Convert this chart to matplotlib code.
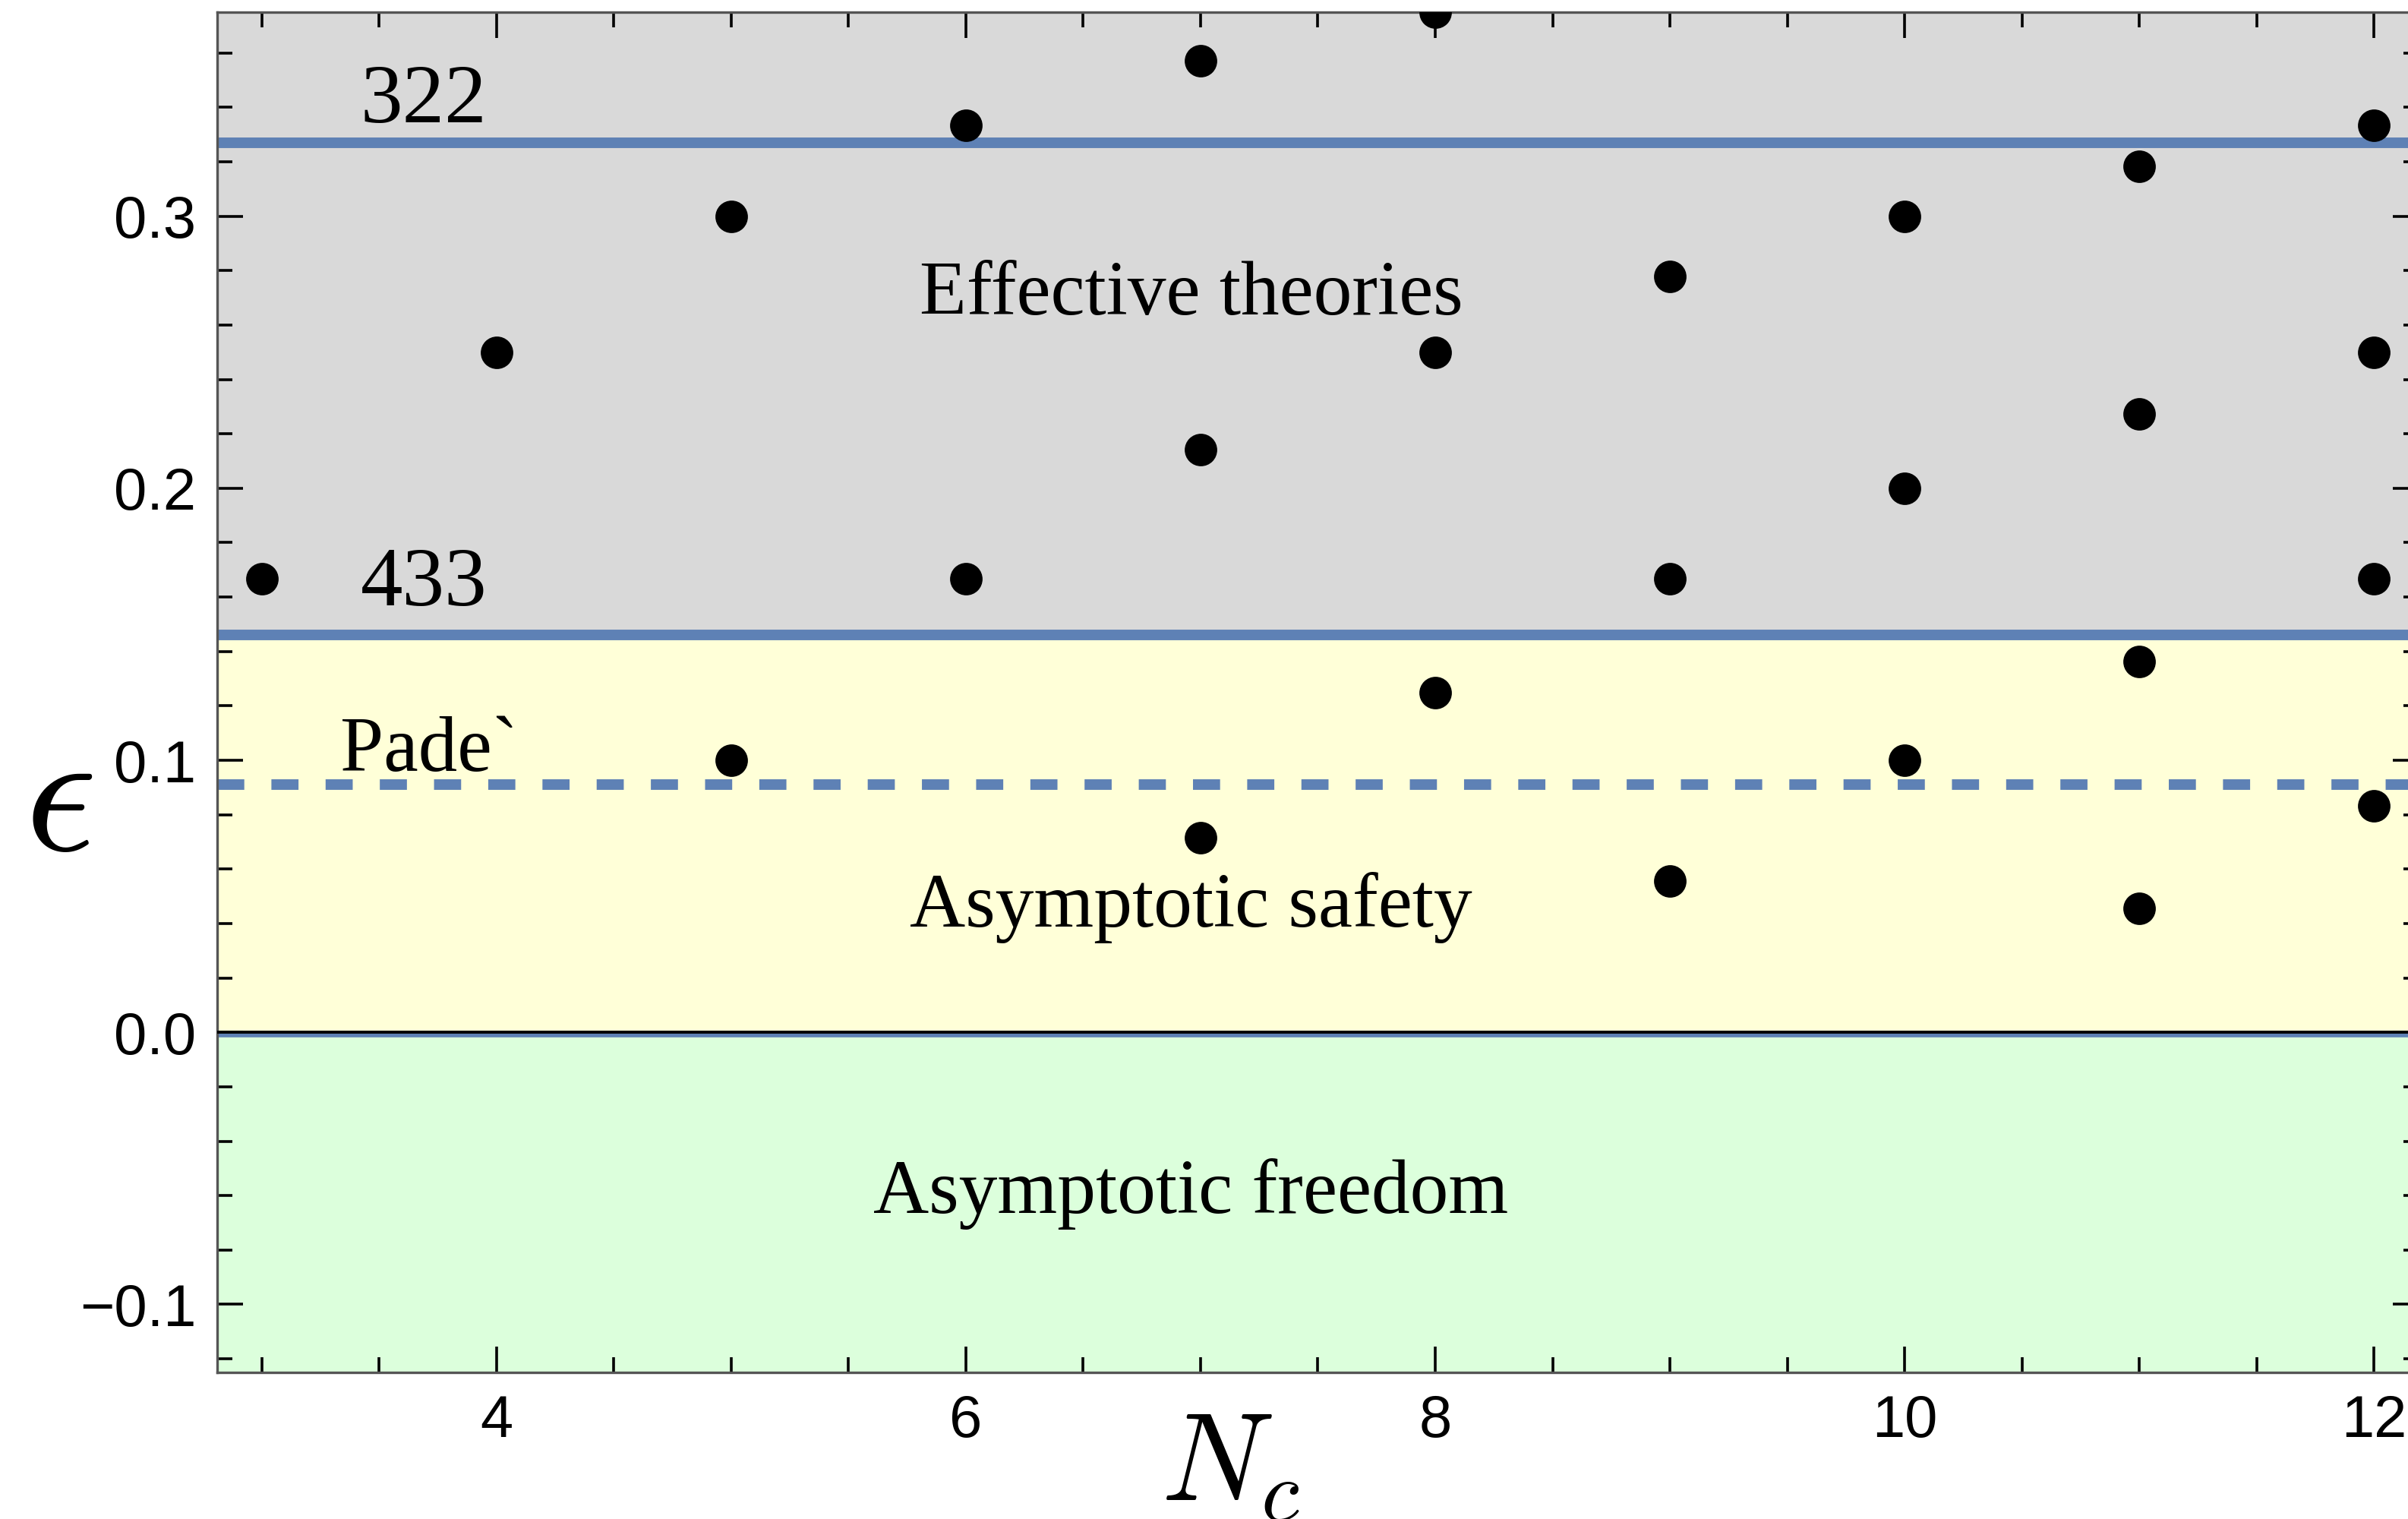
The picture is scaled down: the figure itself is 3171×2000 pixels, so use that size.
import matplotlib
matplotlib.use('Agg')
import matplotlib.pyplot as plt
from matplotlib.ticker import MultipleLocator, FixedLocator, FuncFormatter

plt.rcParams['mathtext.fontset'] = 'cm'

# epsilon values for each number of colours
nc = [3, 4, 5, 5, 6, 6, 7, 7, 7, 8, 8, 8, 9, 9, 9, 10, 10, 10,
      11, 11, 11, 11, 12, 12, 12, 12]
eps = [0.1667, 0.25, 0.1, 0.3, 0.1667, 0.3333, 0.0714, 0.2143, 0.3571,
       0.125, 0.25, 0.375, 0.0556, 0.1667, 0.2778, 0.1, 0.2, 0.3,
       0.0455, 0.1364, 0.2273, 0.3182, 0.0833, 0.1667, 0.25, 0.3333]

# bounds from the different approximations
eps_322 = 0.327
eps_433 = 0.146
eps_pade = 0.091

xlim = (2.81, 12.19)
ylim = (-0.125, 0.375)

blue = '#5e81b5'
serif = 'Liberation Serif'

fig = plt.figure(figsize=(15.855, 10), dpi=200)
ax = fig.add_axes([0.0902, 0.0965, 0.9142, 0.8955])

# shaded regions
ax.axhspan(eps_433, ylim[1], color='#d9d9d9', lw=0, zorder=0)
ax.axhspan(0, eps_433, color='#ffffd8', lw=0, zorder=0)
ax.axhspan(ylim[0], 0, color='#dcffdc', lw=0, zorder=0)

ax.axhline(eps_322, color=blue, lw=5, zorder=2)
ax.axhline(eps_433, color=blue, lw=5, zorder=2)
ax.axhline(eps_pade, color=blue, lw=5, dashes=(2.57, 2.57), zorder=2)
ax.axhline(-0.0009, color=blue, lw=2.4, zorder=2)
ax.axhline(0, color='black', lw=1.4, zorder=3)

ax.plot(nc, eps, 'o', color='black', ms=14.4, zorder=4)

ax.text(3.69, 0.3344, '322', fontsize=40, family=serif, ha='center', va='baseline')
ax.text(3.69, 0.157, '433', fontsize=40, family=serif, ha='center', va='baseline')
ax.text(3.335, 0.0961, 'Pade`', fontsize=37, family=serif, ha='left', va='baseline')
ax.text(6.96, 0.2638, 'Effective theories', fontsize=36.5, family=serif, ha='center', va='baseline')
ax.text(6.96, 0.039, 'Asymptotic safety', fontsize=36.5, family=serif, ha='center', va='baseline')
ax.text(6.96, -0.0664, 'Asymptotic freedom', fontsize=36.5, family=serif, ha='center', va='baseline')

ax.set_xlim(*xlim)
ax.set_ylim(*ylim)

ax.xaxis.set_major_locator(FixedLocator([4, 6, 8, 10, 12]))
ax.xaxis.set_minor_locator(MultipleLocator(0.5))
ax.yaxis.set_major_locator(FixedLocator([-0.1, 0.0, 0.1, 0.2, 0.3]))
ax.yaxis.set_minor_locator(MultipleLocator(0.02))
ax.yaxis.set_major_formatter(FuncFormatter(lambda v, p: f'{v:.1f}'.replace('-', '\u2212')))

ax.tick_params(which='both', direction='in', top=True, right=True,
               color='black', width=1.3, labelsize=28, pad=10)
ax.tick_params(which='major', length=12.2)
ax.tick_params(which='minor', length=7.2)
for lab in ax.get_xticklabels() + ax.get_yticklabels():
    lab.set_family('Liberation Sans')

for sp in ax.spines.values():
    sp.set_color('#555555')
    sp.set_linewidth(1.2)

ax.set_xlabel(r'$N_c$', fontsize=59, va='baseline')
ax.xaxis.set_label_coords(0.4604, -0.0938)
ax.set_ylabel(r'$\epsilon$', fontsize=84, rotation=0, va='center', ha='center')
ax.yaxis.set_label_coords(-0.072, 0.42)

fig.savefig('out.png', dpi=200)
